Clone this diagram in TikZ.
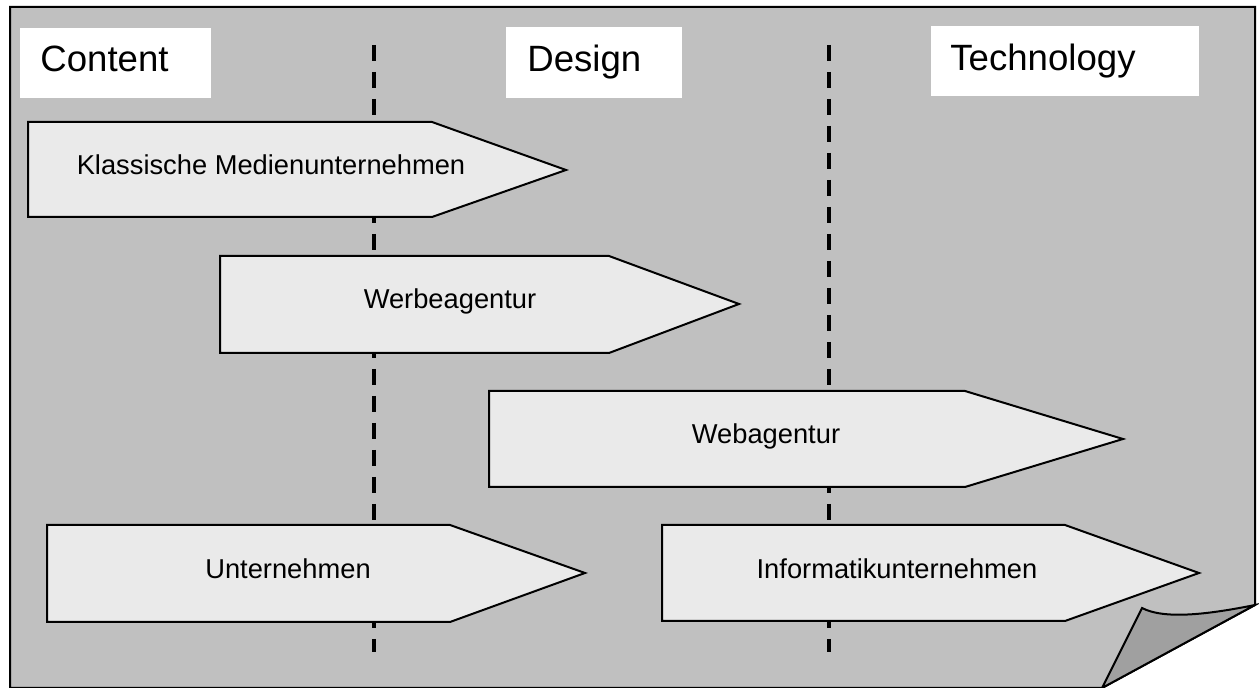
\documentclass[tikz,border=0pt]{standalone}
\usepackage{fontspec}
\setmainfont{Liberation Sans}
\definecolor{pagegray}{HTML}{C0C0C0}
\definecolor{boxgray}{HTML}{EAEAEA}
\definecolor{flapgray}{HTML}{A0A0A0}
\tikzset{
  pageline/.style={draw=black, line width=1pt, line join=miter},
  arrowshape/.style={fill=boxgray, draw=black, line width=1pt, line join=miter},
  titlebox/.style={fill=white},
  titletext/.style={inner sep=0pt, anchor=base west, font=\fontsize{18.3}{22}\selectfont},
  boxtext/.style={inner sep=0pt, anchor=base, font=\fontsize{13.65}{16}\selectfont},
  dashline/.style={draw=black, line width=2pt, dash pattern=on 8pt off 5.5pt}
}
\begin{document}
\begin{tikzpicture}[x=0.5pt,y=-0.5pt]
\useasboundingbox (0,0) rectangle (1259,688);
\fill[white] (0,0) rectangle (1259,688);
% page with folded corner
\path[pageline, fill=pagegray] (10,7) -- (1255,7) -- (1255,605) -- (1102,688) -- (10,688) -- cycle;
\path[pageline, fill=flapgray] (1255,605) .. controls (1210,614) and (1165,620) .. (1142,608) -- (1102,688) -- cycle;
% title boxes
\fill[titlebox] (20,28) rectangle (211,98);
\fill[titlebox] (506,27) rectangle (682,98);
\fill[titlebox] (931,26) rectangle (1199,96);
\node[titletext] (tcontent) at (40,72) {Content};
\node[titletext] (tdesign) at (527,72) {Design};
\node[titletext] (ttech) at (950,71) {Technology};
% dashed separators
\draw[dashline] (374,45) -- (374,652);
\draw[dashline] (829,45) -- (829,652);
% arrows
\path[arrowshape] (28,122) -- (432,122) -- (566,170) -- (432,217) -- (28,217) -- cycle;
\path[arrowshape] (220,256) -- (609,256) -- (739,304) -- (609,353) -- (220,353) -- cycle;
\path[arrowshape] (489,391) -- (965,391) -- (1123,439) -- (965,487) -- (489,487) -- cycle;
\path[arrowshape] (47,525) -- (450,525) -- (585,573) -- (450,622) -- (47,622) -- cycle;
\path[arrowshape] (662,525) -- (1065,525) -- (1199,573) -- (1065,621) -- (662,621) -- cycle;
\node[boxtext] (klass) at (271,175) {Klassische Medienunternehmen};
\node[boxtext] (werbe) at (450,309) {Werbeagentur};
\node[boxtext] (web) at (766,444) {Webagentur};
\node[boxtext] (unter) at (288,579) {Unternehmen};
\node[boxtext] (info) at (897,579) {Informatikunternehmen};
\end{tikzpicture}
\end{document}
